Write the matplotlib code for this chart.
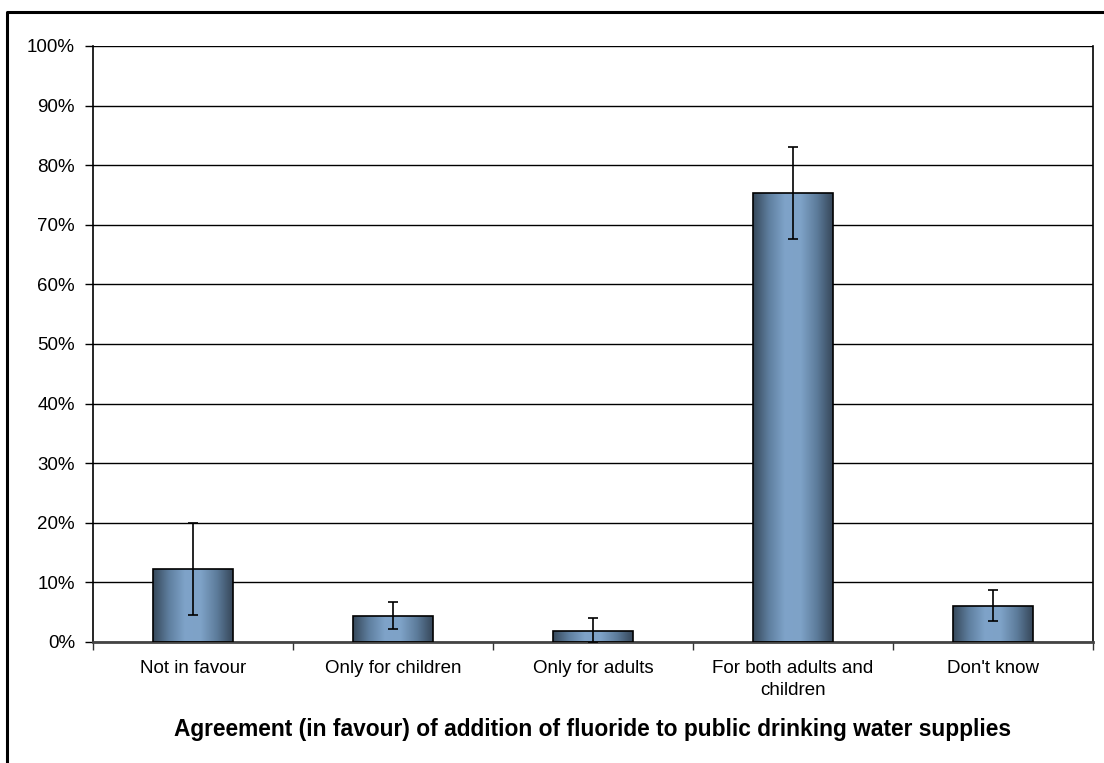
import numpy as np
import matplotlib.pyplot as plt
from matplotlib.lines import Line2D
from matplotlib.colors import LinearSegmentedColormap

# values (percent)
categories = ['Not in favour', 'Only for children', 'Only for adults',
              'For both adults and\nchildren', "Don't know"]
values = [12.2, 4.4, 1.9, 75.4, 6.1]
errors = [7.7, 2.3, 2.1, 7.7, 2.65]

plt.rcParams['font.family'] = ['Liberation Sans', 'DejaVu Sans']

fig = plt.figure(figsize=(11.04, 7.63), dpi=100)
ax = fig.add_axes([93/1104, (763-642)/763, 1000/1104, 596/763])

x = np.arange(len(categories))
bars = ax.bar(x, values, width=0.4, facecolor='none', edgecolor='black',
              linewidth=1.2, zorder=3)

# horizontal gradient: dark edges, light centre
cmap = LinearSegmentedColormap.from_list('bar', ['#36485a', '#5f7f9f', '#7fa3c9', '#7ea2c7', '#5d7c9b', '#36475a'])
grad = np.linspace(0, 1, 256).reshape(1, -1)
for b in bars:
    bx, by = b.get_x(), b.get_y()
    im = ax.imshow(grad, cmap=cmap, aspect='auto', zorder=2,
                   extent=[bx, bx + b.get_width(), by, by + b.get_height()])
    im.set_clip_path(b)

ax.errorbar(x, values, yerr=errors, fmt='none', ecolor='black',
            elinewidth=1.2, capsize=3.5, capthick=1.2, zorder=4)

ax.set_xlim(-0.5, len(categories) - 0.5)
ax.set_ylim(0, 100)
ax.set_yticks(np.arange(0, 101, 10))
ax.set_yticklabels([f'{v}%' for v in range(0, 101, 10)])
ax.yaxis.grid(True, color='black', linewidth=1.0, zorder=0)
ax.set_axisbelow(True)

ax.set_xticks(x)
ax.set_xticklabels(categories, fontsize=13.5, linespacing=1.35)
ax.set_xticks(np.arange(-0.5, len(categories)), minor=True)
ax.tick_params(axis='x', which='major', length=0, pad=13)
ax.tick_params(axis='x', which='minor', length=6, width=1, color='#333333', direction='out')
ax.tick_params(axis='y', length=6, width=1, pad=7, labelsize=13.5)

ax.spines['top'].set_visible(False)
ax.spines['right'].set_linewidth(1.2)
ax.spines['left'].set_linewidth(1.2)
ax.spines['bottom'].set_color('#444444')
ax.spines['bottom'].set_linewidth(2)

ax.set_xlabel('Agreement (in favour) of addition of fluoride to public drinking water supplies',
              fontsize=16.4, fontweight='bold', labelpad=14)

# outer chart border (cropped at right and bottom)
fig.add_artist(Line2D([7/1104, 7/1104, 1.0], [0.0, 1 - 12/763, 1 - 12/763],
                      transform=fig.transFigure, color='black', linewidth=2.2))

plt.savefig('out.png', dpi=100)
